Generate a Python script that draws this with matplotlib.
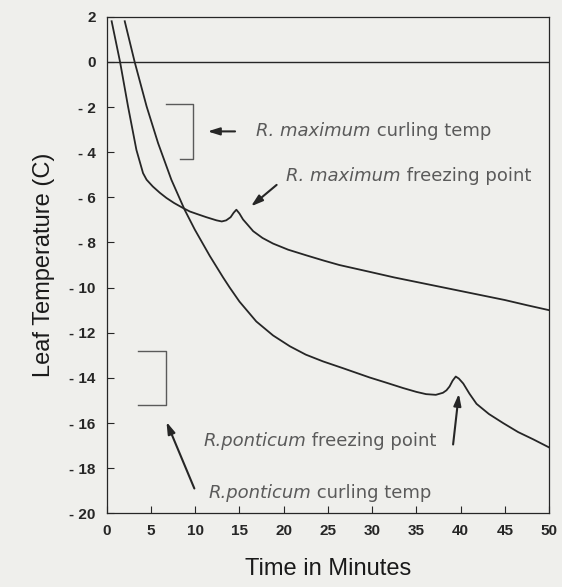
import matplotlib
matplotlib.use("Agg")
import matplotlib.pyplot as plt

# R. maximum leaf temperature
max_time = [0.55, 1.5, 2.4, 3.35, 4.1, 4.5, 5.2, 6.0, 6.75, 7.6, 8.6, 9.4, 10.5, 11.25,
            12.4, 13.0, 13.5, 14.0, 14.35, 14.65, 15.0, 15.4, 16.0, 16.55, 17.6, 18.8,
            20.5, 22.55, 24.5, 26.3, 28.0, 29.7, 32.5, 35.0, 37.5, 40.0, 42.5, 45.0,
            47.5, 50.0]
max_temp = [1.8, 0.0, -1.97, -3.9, -4.93, -5.22, -5.52, -5.8, -6.03, -6.25, -6.47, -6.63,
            -6.78, -6.88, -7.02, -7.07, -7.02, -6.88, -6.68, -6.55, -6.72, -6.98, -7.25,
            -7.5, -7.8, -8.05, -8.32, -8.57, -8.8, -9.0, -9.15, -9.3, -9.55, -9.75,
            -9.95, -10.15, -10.35, -10.55, -10.78, -11.0]

# R. ponticum leaf temperature
pon_time = [2.03, 3.15, 4.5, 5.8, 7.3, 8.8, 9.95, 11.65, 13.15, 13.9, 15.0, 16.9, 18.8,
            20.7, 22.5, 24.45, 26.7, 29.7, 31.5, 33.5, 35.0, 36.1, 37.2, 38.0, 38.4,
            38.75, 39.1, 39.45, 39.8, 40.3, 41.0, 41.8, 43.2, 44.8, 46.5, 48.2, 50.0]
pon_temp = [1.8, 0.0, -1.97, -3.6, -5.22, -6.55, -7.43, -8.6, -9.55, -10.0, -10.62, -11.5,
            -12.12, -12.6, -12.97, -13.27, -13.57, -13.98, -14.2, -14.45, -14.62, -14.72,
            -14.75, -14.66, -14.55, -14.38, -14.12, -13.94, -14.03, -14.25, -14.7, -15.15,
            -15.6, -16.0, -16.4, -16.72, -17.08]

# curling temperature ranges (bracket top, bottom)
max_curl = [-1.85, -4.3]
pon_curl = [-12.8, -15.2]

# labels: (species in italics, rest, x, y)
labels = [("R. maximum", "curling temp", 16.9, -3.05),
          ("R. maximum", "freezing point", 20.3, -5.07),
          ("R.ponticum", "freezing point", 10.9, -16.8),
          ("R.ponticum", "curling temp", 11.45, -19.1)]

xticks = list(range(0, 51, 5))
yticks = list(range(2, -21, -2))

bg = "#efefec"
ink = "#262626"
grey = "#5a5a5a"

plt.rcParams["font.family"] = ["Liberation Sans", "DejaVu Sans"]

fig = plt.figure(figsize=(5.62, 5.87), dpi=100, facecolor=bg)
ax = fig.add_axes([0.190, 0.1255, 0.787, 0.846], facecolor=bg)

ax.plot(max_time, max_temp, color=ink, lw=1.3)
ax.plot(pon_time, pon_temp, color=ink, lw=1.3)
ax.axhline(0, color=ink, lw=1.0)

# brackets
ax.plot([6.75, 9.75, 9.75, 8.25], [max_curl[0], max_curl[0], max_curl[1], max_curl[1]],
        color=grey, lw=1.0)
ax.plot([3.55, 6.7, 6.7, 3.55], [pon_curl[0], pon_curl[0], pon_curl[1], pon_curl[1]],
        color=grey, lw=1.0)

arrow = dict(arrowstyle="-|>,head_length=0.7,head_width=0.22", color=ink, lw=1.5,
             mutation_scale=10, shrinkA=0, shrinkB=0)
ax.annotate("", xy=(11.4, -3.08), xytext=(14.5, -3.08), arrowprops=arrow)
ax.annotate("", xy=(16.3, -6.4), xytext=(19.2, -5.45), arrowprops=arrow)
ax.annotate("", xy=(6.75, -15.95), xytext=(9.9, -18.9), arrowprops=arrow)
ax.annotate("", xy=(39.8, -14.7), xytext=(39.15, -16.95), arrowprops=arrow)

lab_font = dict(color=grey, fontsize=13, family="DejaVu Sans", va="center")
for sp, rest, x, y in labels:
    t = ax.text(x, y, sp, style="italic", **lab_font)
    ax.annotate(" " + rest, xy=(1, 0.5), xycoords=t, ha="left", **lab_font)

ax.set_xlim(0, 50)
ax.set_ylim(-20, 2)
ax.set_xticks(xticks)
ax.set_yticks(yticks)
ax.set_yticklabels([str(v).replace("-", "- ") for v in yticks])
ax.tick_params(direction="in", length=5, width=0.8, colors=ink, labelsize=11, pad=8)
for lab in ax.get_xticklabels() + ax.get_yticklabels():
    lab.set_fontweight("bold")
for s in ax.spines.values():
    s.set_color(ink)
    s.set_linewidth(0.9)

ax.set_xlabel("Time in Minutes", fontsize=17, color="#1a1a1a", labelpad=14)
ax.set_ylabel("Leaf Temperature (C)", fontsize=17, color="#1a1a1a", labelpad=10)

fig.savefig("out.png", dpi=100, facecolor=bg)
